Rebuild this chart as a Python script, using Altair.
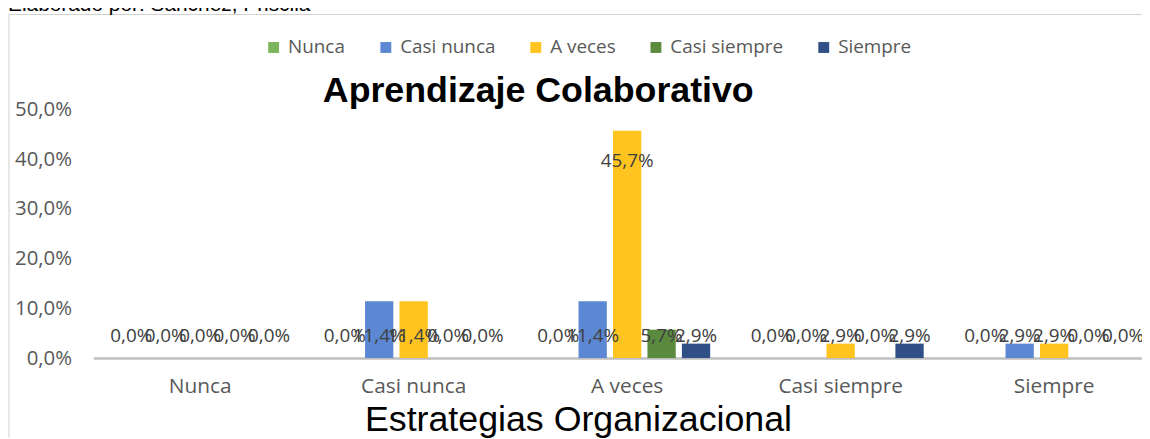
import altair as alt
import pandas as pd

# x categories (Estrategias Organizacional)
categories = ["Nunca", "Casi nunca", "A veces", "Casi siempre", "Siempre"]
# series (Aprendizaje Colaborativo)
series = ["Nunca", "Casi nunca", "A veces", "Casi siempre", "Siempre"]
colors = ["#7AB55C", "#5B87D3", "#FFC41F", "#5A8A3E", "#2F4F86"]

# values per x category, one per series (proportions)
vals_nunca = [0.0, 0.0, 0.0, 0.0, 0.0]
vals_casi_nunca = [0.0, 0.114, 0.114, 0.0, 0.0]
vals_a_veces = [0.0, 0.114, 0.457, 0.057, 0.029]
vals_casi_siempre = [0.0, 0.0, 0.029, 0.0, 0.029]
vals_siempre = [0.0, 0.029, 0.029, 0.0, 0.0]

y_ticks = [0.0, 0.1, 0.2, 0.3, 0.4, 0.5]

all_vals = [vals_nunca, vals_casi_nunca, vals_a_veces, vals_casi_siempre, vals_siempre]
rows = []
for cat, vals in zip(categories, all_vals):
    for ser, v in zip(series, vals):
        rows.append({"cat": cat, "ser": ser, "v": v})
df = pd.DataFrame(rows)

W = 1056
H = 250.5

x_enc = alt.X(
    "cat:N",
    sort=categories,
    scale=alt.Scale(range=[0, 1075], paddingInner=0.222, paddingOuter=0.111),
    axis=alt.Axis(
        title="Estrategias Organizacional",
        labelAngle=0,
        labelFont="Open Sans",
        labelFontSize=21,
        labelColor="#595959",
        labelPadding=18,
        ticks=False,
        domainColor="#BFBFBF",
        domainWidth=2.5,
        titleFont="Liberation Sans",
        titleFontSize=36,
        titleFontWeight="normal",
        titleColor="#000000",
        titleX=488,
        titleY=73,
        titleBaseline="alphabetic",
        titleAlign="center",
        titleAnchor="start",
    ),
)
xoff_enc = alt.XOffset("ser:N", sort=series, scale=alt.Scale(paddingInner=0.179, paddingOuter=0))
y_enc = alt.Y(
    "v:Q",
    scale=alt.Scale(domain=[0, 0.5]),
    axis=alt.Axis(
        values=y_ticks,
        labelExpr="replace(format(datum.value, '.1%'), '.', ',')",
        title=None,
        domain=False,
        ticks=False,
        grid=False,
        labelFont="Open Sans",
        labelFontSize=20.5,
        labelColor="#595959",
        labelPadding=22,
    ),
)
color_enc = alt.Color(
    "ser:N",
    sort=series,
    scale=alt.Scale(domain=series, range=colors),
    legend=alt.Legend(
        orient="none",
        legendX=172,
        legendY=-72,
        direction="horizontal",
        title=None,
        symbolType="square",
        symbolSize=120,
        symbolStrokeWidth=0,
        labelFont="Open Sans",
        labelFontSize=19,
        labelColor="#595959",
        columnPadding=31,
        labelOffset=5,
        padding=0,
    ),
)

base = alt.Chart(df)
bars = base.mark_bar().encode(x=x_enc, xOffset=xoff_enc, y=y_enc, color=color_enc)

labels = base.transform_calculate(
    lbl="replace(format(datum.v, '.1%'), '.', ',')",
    ly="datum.v > 0.2 ? datum.v - 0.06 : 0.045",
).mark_text(font="Open Sans", fontSize=19, color="#404040", baseline="middle").encode(
    x=alt.X("cat:N", sort=categories),
    xOffset=alt.XOffset("ser:N", sort=series),
    y=alt.Y("ly:Q"),
    text="lbl:N",
)

deco = pd.DataFrame({"t": ["Aprendizaje Colaborativo"]})
title_txt = alt.Chart(deco).mark_text(
    font="Liberation Sans", fontSize=36, fontWeight="bold", color="#000000",
    align="center", baseline="alphabetic",
).encode(x=alt.value(448), y=alt.value(-7), text="t:N")

src = pd.DataFrame({"t": ["Elaborado por: Sanchez, Priscila"]})
src_txt = alt.Chart(src).mark_text(
    font="Liberation Sans", fontSize=21, color="#000000", align="left", baseline="alphabetic",
).encode(x=alt.value(-86), y=alt.value(-99.5), text="t:N")

frame_df = pd.DataFrame({"k": [1]})
frame_left = alt.Chart(frame_df).mark_rule(color="#D0D0D0", strokeWidth=1).encode(
    x=alt.value(-85), y=alt.value(-95.5), y2=alt.value(H + 80)
)
frame_top = alt.Chart(frame_df).mark_rule(color="#D0D0D0", strokeWidth=1).encode(
    x=alt.value(-85), x2=alt.value(W), y=alt.value(-95.5)
)

chart = alt.layer(frame_left, frame_top, bars, labels, title_txt, src_txt).properties(
    width=W,
    height=H,
    autosize=alt.AutoSizeParams(type="none"),
    padding={"left": 86, "top": 100.5, "right": 0, "bottom": 80},
).configure_view(stroke=None)

chart.save("out.html", embed_options={"renderer": "svg", "actions": False})
